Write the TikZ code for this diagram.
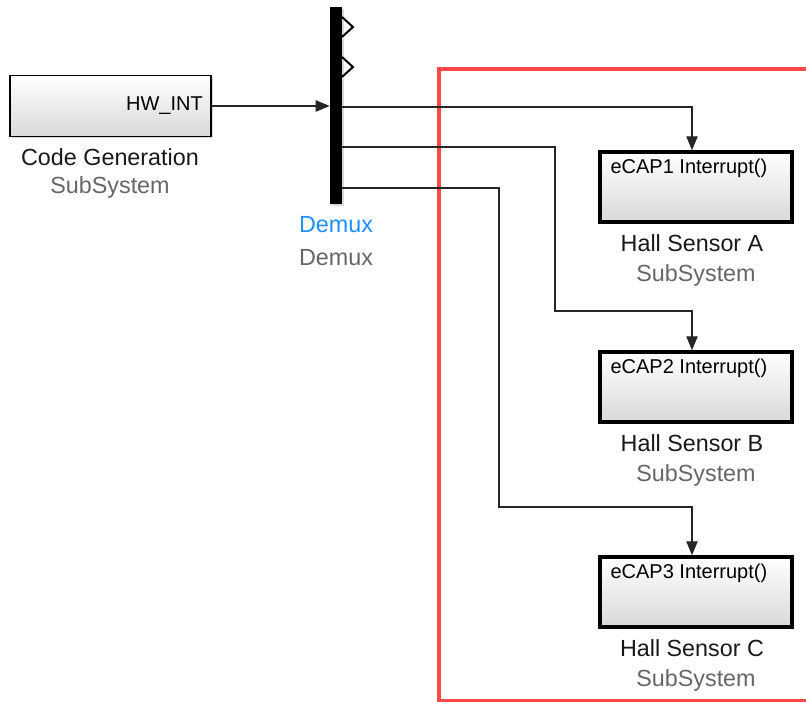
\documentclass[tikz,border=0pt]{standalone}
\usepackage{fontspec}
\setmainfont{Liberation Sans}
\usepackage{xcolor}
\definecolor{areared}{HTML}{FF4848}
\definecolor{demuxblue}{HTML}{1E90FF}
\definecolor{labelgray}{HTML}{666666}
\usetikzlibrary{arrows.meta, positioning, shadows, calc}
\tikzset{
  subsys/.style={draw=black, rectangle, inner sep=0pt, top color=white, bottom color=black!15,
    drop shadow={shadow xshift=1.5pt, shadow yshift=-1.5pt, opacity=0.3}},
  blkname/.style={font=\fontsize{17.5}{20}\selectfont, text=black!90},
  blktype/.style={font=\fontsize{17.5}{20}\selectfont, text=labelgray},
  portlbl/.style={font=\fontsize{15}{17}\selectfont, inner sep=0pt},
  sig/.style={line width=1pt, draw=black!85, -{Triangle[length=10.5pt, width=8.5pt]}},
}

\begin{document}
\begin{tikzpicture}[x=0.75pt, y=-0.75pt]
\useasboundingbox (0,0) rectangle (806,702);

% Interrupt area
\draw[areared, line width=3pt] (812,69.5) -- (439,69.5) -- (439,700.5) -- (812,700.5);

% Code generation block
\node[subsys, line width=1.3pt, minimum width=150.75pt, minimum height=45.75pt] (codegen) at (110.5,106) {};
\node[portlbl, anchor=east] (hwint) at (203,106) {HW\_INT};
\node[blkname] (codegenname) at (110,157) {Code Generation};
\node[blktype] (codegentype) at (110,187) {SubSystem};

% Demux
\node[fill=black, inner sep=0pt, minimum width=9pt, minimum height=147.75pt,
  drop shadow={shadow xshift=1.5pt, shadow yshift=-1.5pt, opacity=0.3}] (demux) at (336,106) {};
\node[blkname, text=demuxblue] (demuxname) at (336,225) {Demux};
\node[blktype] (demuxtype) at (336,258) {Demux};
\foreach \y in {27,67}
  \draw[line width=1.5pt, miter limit=4] (342,\y-10) -- (353,\y) -- (342,\y+10);

\draw[sig] (codegen.east) -- (demux.west |- codegen.east);

% Hall sensor subsystems
\foreach \y/\n/\l in {187/1/A, 387/2/B, 592/3/C} {
  \node[subsys, line width=2.6pt, minimum width=144pt, minimum height=52.5pt] (hs\l) at (696,\y) {};
  \node[portlbl, anchor=west] (hsport\l) at ($(hs\l.north west)+(12,18)$) {eCAP\n\ Interrupt()};
  \node[blkname] (hsname\l) at (692,\y+56) {Hall Sensor \l};
  \node[blktype] (hstype\l) at (696,\y+88) {SubSystem};
}

% Demux outputs
\coordinate (out1) at (demux.east |- 0,107);
\coordinate (out2) at (demux.east |- 0,147);
\coordinate (out3) at (demux.east |- 0,188);
\coordinate (bend2) at (555,311);
\coordinate (bend3) at (499,507);

\draw[sig] (out1) -| ([xshift=-3pt]hsA.north);
\draw[sig] (out2) -| (bend2) -| ([xshift=-3pt]hsB.north);
\draw[sig] (out3) -| (bend3) -| ([xshift=-3pt]hsC.north);
\end{tikzpicture}
\end{document}
